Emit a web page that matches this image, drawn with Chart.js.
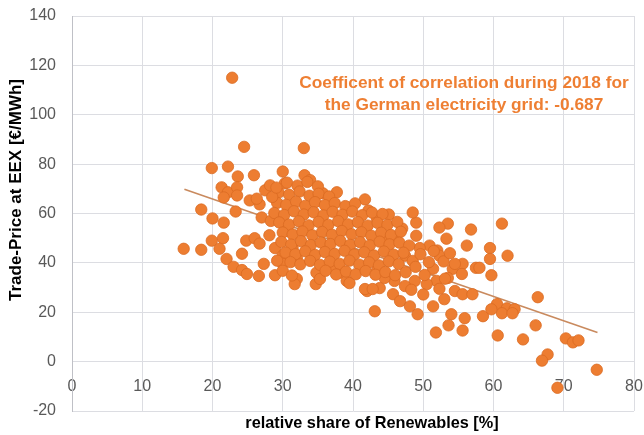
<!DOCTYPE html>
<html><head><meta charset="utf-8">
<script src="https://cdn.jsdelivr.net/npm/chart.js@4/dist/chart.umd.min.js"></script>
<style>html,body{margin:0;padding:0;background:#fff}#wrap{width:644px;height:435px}</style>
</head><body><div id="wrap"><canvas id="c" width="644" height="435"></canvas></div>
<script>
// Scattered days (outliers and left group)
const shareA = [
  22.8, 24.5, 33.0, 19.9, 22.2, 23.6, 25.9, 30.0,
  21.3, 22.2, 23.5, 21.6, 23.5, 25.3, 26.7, 26.3, 27.5, 28.2,
  18.4, 23.3, 20.0, 21.6, 27.0, 28.3,
  15.9, 18.4, 19.9, 21.5, 21.0, 22.0, 23.0, 24.2, 24.9, 26.6, 28.9,
  24.2, 24.8, 26.0, 26.7, 27.3, 28.9, 30.0,
  32.0, 31.7, 34.7, 34.8, 35.3, 32.0, 31.4, 30.6, 37.0, 38.1, 39.1, 30.0, 42.0, 43.8, 45.7,
  33.1, 33.9, 30.3, 37.7, 35.7, 41.7, 39.3, 42.2, 43.4, 45.1, 47.0, 46.2, 44.5
];
const priceA = [
  115, 87, 86.5, 78.4, 79.0, 75.0, 75.5, 77.0,
  70.6, 68.6, 70.6, 66.5, 67.3, 65.3, 63.7, 66.0, 69.4, 71.4,
  61.6, 60.8, 58.0, 56.3, 58.4, 57.0,
  45.7, 45.3, 49.0, 50.0, 45.7, 41.6, 38.4, 37.1, 35.5, 34.7, 35.0,
  43.7, 49.0, 50.0, 47.8, 39.6, 46.0, 43.0,
  33.5, 31.4, 31.4, 36.0, 33.5, 42.0, 46.0, 53.0, 38.0, 36.0, 32.7, 39.6, 28.6, 29.8, 27.3,
  75.5, 73.5, 72.2, 68.6, 68.2, 65.7, 62.4, 61.2, 58.0, 59.6, 53.9, 49.0, 49.8
];
// Right-hand group
const shareB = [
  61.2, 56.8, 62.0, 59.5, 59.5, 59.7, 57.5, 53.5, 52.3, 53.3, 49.0, 48.5,
  49.0, 50.9, 52.0, 49.5, 47.4, 48.5, 52.3, 51.4, 54.2, 55.6, 55.5, 53.5,
  51.9, 50.5, 48.8, 47.4, 45.9, 44.5, 43.4, 41.7, 42.8, 39.5,
  43.1, 46.7, 48.1, 49.2, 51.4, 53.0, 54.5, 55.6, 57.0, 54.0, 55.9, 58.5,
  60.5, 61.9, 63.0, 61.2, 56.2, 54.5, 58.0, 66.3, 59.7, 62.7,
  66.0, 60.6, 64.2, 70.3, 71.3, 72.1, 67.7, 66.9, 74.7, 69.1, 51.8, 53.6, 55.6
];
const priceB = [
  55.9, 53.5, 42.9, 46.0, 41.6, 35.0, 38.0, 55.9, 54.3, 49.8, 56.3, 60.4,
  51.0, 47.0, 45.0, 46.0, 42.9, 40.8, 42.9, 37.6, 37.6, 39.6, 35.5, 33.9,
  32.7, 31.4, 32.7, 30.6, 32.7, 33.9, 36.7, 29.4, 29.4, 31.8,
  20.4, 24.5, 22.4, 19.2, 22.4, 25.3, 28.6, 27.3, 27.3, 19.2, 17.6, 18.4,
  23.3, 21.6, 21.2, 19.6, 47.0, 39.6, 38.0, 26.1, 21.2, 19.6,
  14.7, 10.6, 9.0, 9.4, 7.8, 8.6, 2.9, 0.4, -3.3, -10.6, 11.8, 14.7, 12.6
];
// Dense core (30-47 % renewables)
const shareC = [
  30.6, 32.1, 33.5, 35.0,
  29.4, 30.9, 32.4, 33.8, 35.1, 36.6,
  29.2, 30.5, 31.9, 33.2, 34.6, 36.0, 37.4, 38.9, 40.3,
  28.8, 30.2, 31.6, 33.0, 34.4, 35.8, 37.1, 38.5, 39.9, 41.3, 42.7, 44.2,
  29.5, 30.9, 32.3, 33.7, 35.1, 36.5, 37.9, 39.3, 40.7, 42.1, 43.5, 44.9, 46.3,
  30.0, 31.4, 32.8, 34.2, 35.6, 37.0, 38.4, 39.8, 41.2, 42.6, 44.0, 45.4, 46.8,
  29.8, 31.2, 32.6, 34.0, 35.4, 36.8, 38.2, 39.6, 41.0, 42.4, 43.8, 45.2, 46.6, 48.0,
  30.4, 31.8, 33.2, 34.6, 36.0, 37.4, 38.8, 40.2, 41.6, 43.0, 44.4, 45.8, 47.2,
  31.1, 32.5, 33.9, 35.3, 36.7, 38.1, 39.5, 40.9, 42.3, 43.7, 45.1, 46.5,
  36.1, 37.6, 39.0, 40.4, 41.8, 43.2, 44.6, 46.0
];
const priceC = [
  72.5, 71.3, 72.8, 71.0,
  68.5, 67.6, 68.9, 67.2, 68.0, 66.9,
  64.3, 63.5, 64.8, 63.1, 64.6, 63.4, 64.2, 63.0, 64.1,
  60.2, 59.4, 60.9, 59.6, 60.5, 59.2, 60.7, 59.5, 60.8, 59.3, 60.4, 59.8,
  56.4, 55.5, 56.8, 55.2, 56.6, 55.4, 56.9, 55.6, 56.5, 55.1, 56.2, 55.4, 56.6,
  52.3, 51.5, 52.7, 51.2, 52.5, 51.4, 52.9, 51.6, 52.4, 51.0, 52.2, 51.3, 52.6,
  48.5, 47.4, 48.8, 47.2, 48.3, 47.6, 48.9, 47.3, 48.4, 47.1, 48.6, 47.5, 48.2, 47.0,
  44.2, 43.5, 44.7, 43.2, 44.4, 43.6, 44.9, 43.4, 44.3, 43.0, 44.6, 43.3, 44.1,
  40.3, 39.4, 40.8, 39.2, 40.5, 39.6, 40.9, 39.3, 40.2, 39.0, 40.6, 39.5,
  36.8, 35.3, 36.5, 35.4, 36.7, 35.2, 36.3, 35.0
];
// Extra days at the core's edges
const shareD = [47.5, 48.9, 50.2, 50.8, 49.6, 51.5, 52.9, 53.8, 48.3, 50.0, 52.3, 53.1,
                28.5, 29.1, 28.1, 29.2, 30.0, 31.3];
const priceD = [36.2, 38.4, 35.1, 40.3, 43.5, 44.8, 40.6, 43.9, 29.1, 27.2, 29.5, 33.6,
                66.7, 70.5, 51.2, 40.9, 36.8, 34.9];

// Linear trend line end points
const trendX = [16.0, 74.8];
const trendY = [69.8, 11.8];

const xTicks = [0, 10, 20, 30, 40, 50, 60, 70, 80];
const yTicks = [-20, 0, 20, 40, 60, 80, 100, 120, 140];

const xTitle = 'relative share of Renewables [%]';
const yTitle = 'Trade-Price at EEX [€/MWh]';
const noteLines = ['Coefficent of correlation during 2018 for', 'the German electricity grid: -0.687'];

const allShare = shareA.concat(shareB, shareC, shareD);
const allPrice = priceA.concat(priceB, priceC, priceD);
const points = allShare.map((x, i) => ({x: x, y: allPrice[i]}));
const trend = trendX.map((x, i) => ({x: x, y: trendY[i]}));

const FONT = '"Liberation Sans", Arial, sans-serif';

const textPlugin = {
  id: 'texts',
  afterDraw(chart) {
    const ctx = chart.ctx;
    ctx.save();
    ctx.fillStyle = '#000';
    ctx.textAlign = 'center';
    ctx.textBaseline = 'middle';
    ctx.font = 'bold 16.3px ' + FONT;
    ctx.fillText(xTitle, 372, 424);
    ctx.font = 'bold 17px ' + FONT;
    ctx.translate(16, 190);
    ctx.rotate(-Math.PI / 2);
    ctx.fillText(yTitle, 0, 0);
    ctx.restore();
    ctx.save();
    ctx.fillStyle = '#EE7F33';
    ctx.font = 'bold 17.3px ' + FONT;
    ctx.textAlign = 'center';
    ctx.textBaseline = 'middle';
    ctx.fillText(noteLines[0], 464, 83);
    ctx.fillText(noteLines[1], 464, 105);
    ctx.restore();
  }
};

new Chart(document.getElementById('c'), {
  type: 'scatter',
  data: {
    datasets: [
      {label: 'days', data: points, order: 1, pointRadius: 5.7, backgroundColor: '#ED7D31',
       borderColor: '#DB6B22', borderWidth: 0.8},
      {type: 'line', label: 'trend', data: trend, order: 2, showLine: true, borderColor: '#C98A5E',
       borderWidth: 1.6, pointRadius: 0, fill: false}
    ]
  },
  options: {
    responsive: false, animation: false, devicePixelRatio: 1,
    layout: {padding: {left: 0, right: 10, top: 16, bottom: 24}},
    plugins: {legend: {display: false}, tooltip: {enabled: false}},
    scales: {
      x: {
        type: 'linear', min: 0, max: 80, position: {y: 0},
        afterBuildTicks: s => { s.ticks = xTicks.map(v => ({value: v})); },
        afterFit: s => { s.paddingLeft = 0; s.paddingRight = 0; },
        grid: {color: '#dcdde2', drawTicks: false},
        border: {color: '#dcdde2'},
        ticks: {padding: 15, color: '#595959', font: {size: 16, family: FONT}}
      },
      y: {
        type: 'linear', min: -20, max: 140,
        afterBuildTicks: s => { s.ticks = yTicks.map(v => ({value: v})); },
        afterFit: s => { s.width = 72; s.paddingTop = 0; s.paddingBottom = 0; },
        grid: {color: '#dcdde2', drawTicks: false},
        border: {color: '#bfc0c6'},
        ticks: {padding: 16, color: '#595959', font: {size: 16, family: FONT}}
      }
    }
  },
  plugins: [textPlugin]
});
</script>
</body></html>
